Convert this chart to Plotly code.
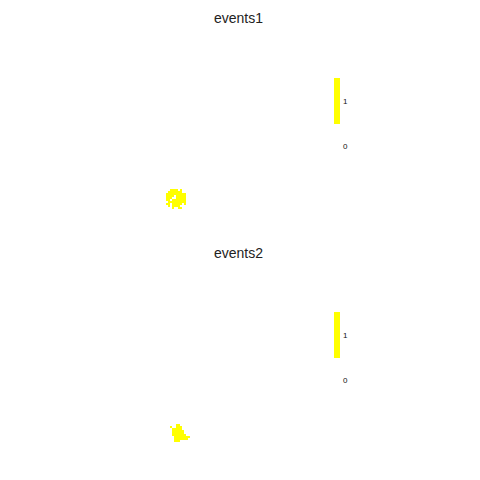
import numpy as np
import plotly.graph_objects as go

titles = ["events1", "events2"]
tick_vals = [0, 1]
tick_text = ["0", "1"]

# event masks (1 = event cell), grid of 2px cells
event1_mask = [
    "..####.#..",
    ".#######..",
    "##########",
    "####.#####",
    "###..#####",
    "##.#######",
    ".#########",
    "##.#####.#",
    ".#.####...",
    "...#..##..",
]
event2_mask = [
    "...##.....",
    "#..###....",
    ".#####....",
    ".######...",
    ".######...",
    ".#######..",
    "..########",
    "..#######.",
    "..###.....",
]
# grid origin (col, row) of each mask
event1_origin = (83.5, 95)
event2_origin = (85.5, 92.5)


def to_z(mask):
    return [[1 if ch == "#" else 0 for ch in row] for row in mask]


colorscale = [[0, "white"], [0.5, "white"], [0.5, "#FFFF00"], [1, "#FFFF00"]]

fig = go.Figure()
cb_tops = [78, 312]
for i, (mask, origin) in enumerate([(event1_mask, event1_origin), (event2_mask, event2_origin)]):
    fig.add_trace(go.Heatmap(
        z=to_z(mask), x0=origin[0], dx=1, y0=origin[1], dy=1,
        colorscale=colorscale, zmin=-0.5, zmax=1.5,
        xaxis="x" if i == 0 else "x2", yaxis="y" if i == 0 else "y2",
        colorbar=dict(
            x=334 / 480, xanchor="left", xpad=0,
            y=1 - cb_tops[i] / 480, yanchor="top", ypad=0,
            lenmode="pixels", len=91, thickness=6, thicknessmode="pixels",
            outlinewidth=0, tickvals=tick_vals, ticktext=tick_text,
            ticks="outside", ticklen=2, tickcolor="rgba(0,0,0,0)",
            tickfont=dict(size=8, color="#111", family="Liberation Sans, Arial"),
        ),
        hoverinfo="skip",
    ))

axis_common = dict(visible=False, showgrid=False, zeroline=False, fixedrange=True)
fig.update_layout(
    width=480, height=480,
    margin=dict(l=0, r=0, t=0, b=0),
    paper_bgcolor="white", plot_bgcolor="white",
    xaxis=dict(range=[0, 240], domain=[0, 1], anchor="y", **axis_common),
    yaxis=dict(range=[120, 0], domain=[0.5, 1], anchor="x", **axis_common),
    xaxis2=dict(range=[0, 240], domain=[0, 1], anchor="y2", **axis_common),
    yaxis2=dict(range=[120, 0], domain=[0, 0.5], anchor="x2", **axis_common),
    showlegend=False,
    annotations=[
        dict(text=titles[0], x=0.497, y=1 - 18 / 480, xref="paper", yref="paper",
             showarrow=False, yanchor="middle", xanchor="center",
             font=dict(size=14, color="#222", family="Liberation Sans, Arial")),
        dict(text=titles[1], x=0.497, y=1 - 253 / 480, xref="paper", yref="paper",
             showarrow=False, yanchor="middle", xanchor="center",
             font=dict(size=14, color="#222", family="Liberation Sans, Arial")),
    ],
)
fig.write_html("out.html")
